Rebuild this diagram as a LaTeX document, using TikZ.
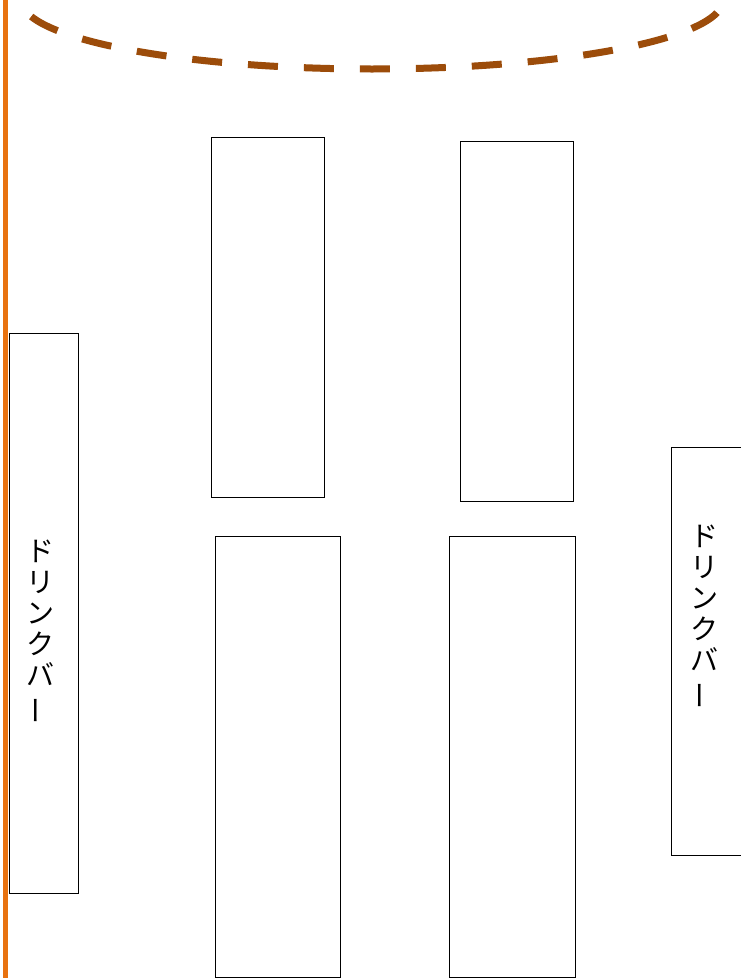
\documentclass[tikz,border=0pt]{standalone}
\usepackage{fontspec}
\usepackage{graphicx}
\newfontfamily\cjks{Noto Sans CJK JP}
\begin{document}
\begin{tikzpicture}[x=1pt,y=-1pt,
  table/.style={draw=black,line width=0.9pt,fill=white},
  vtext/.style={font=\cjks\fontsize{28}{31}\selectfont,align=center,inner sep=0pt}]
\useasboundingbox (0,0) rectangle (741,978);
\fill[white] (0,0) rectangle (741,978);
% orange wall
\draw[color={rgb,255:red,232;green,114;blue,16},line width=5pt] (5,0) -- (5,978);
% dashed arc
\draw[color={rgb,255:red,156;green,76;blue,10},line width=7pt,dash pattern=on 30pt off 26pt,dash phase=-4pt]
  plot[domain=8:172,samples=120,smooth] ({372+351*cos(\x)},{69*sin(\x)});
% tables
\draw[table] (211,137) rectangle (324,497);
\draw[table] (460,141) rectangle (573,501);
\draw[table] (215,536) rectangle (340,977);
\draw[table] (449,536) rectangle (575,977);
% drink bars
\draw[table] (9,333) rectangle (78,893);
\draw[table] (671,447) rectangle (745,855);
\node[vtext] (dl) at (40,632) {ド\\リ\\ン\\ク\\バ\\\rotatebox[origin=c]{90}{ー}};
\node[vtext] (dr) at (704,617) {ド\\リ\\ン\\ク\\バ\\\rotatebox[origin=c]{90}{ー}};
\end{tikzpicture}
\end{document}
